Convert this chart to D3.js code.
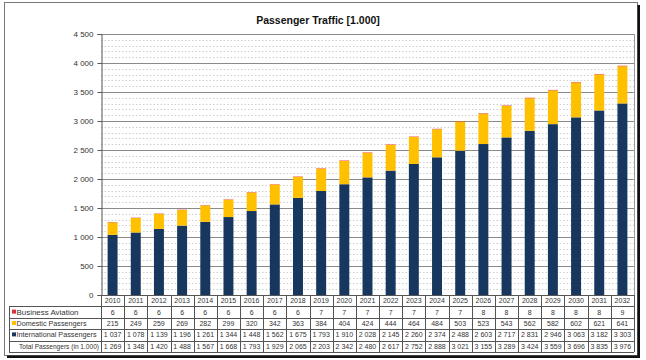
<!DOCTYPE html>
<html><head><meta charset="utf-8">
<script src="https://cdn.jsdelivr.net/npm/d3@7"></script>
<style>body{margin:0;background:#fff}svg{display:block;font-family:"Liberation Sans",Arial,sans-serif}</style>
</head><body><svg id="c" width="646" height="360"></svg>
<script>
const years = [2010,2011,2012,2013,2014,2015,2016,2017,2018,2019,2020,2021,2022,2023,2024,2025,2026,2027,2028,2029,2030,2031,2032];
const business = [6,6,6,6,6,6,6,6,6,7,7,7,7,7,7,7,8,8,8,8,8,8,9];
const domestic = [215,249,259,269,282,299,320,342,363,384,404,424,444,464,484,503,523,543,562,582,602,621,641];
const international = [1037,1078,1139,1196,1261,1344,1448,1562,1675,1793,1910,2028,2145,2260,2374,2488,2603,2717,2831,2946,3063,3182,3303];
const total = [1269,1348,1420,1488,1567,1668,1793,1929,2065,2203,2342,2480,2617,2752,2888,3021,3155,3289,3424,3559,3696,3835,3976];
const yTicks = [0,500,1000,1500,2000,2500,3000,3500,4000,4500];
const seriesNames = ["Business Aviation","Domestic Passengers","International Passengers"];
const totalLabel = "Total Passengers (in 1.000)";
const title = "Passenger Traffic [1.000]";

const colors = {business:"#E0303A", domestic:"#FFC000", international:"#17375E"};
const svg = d3.select("#c");
const loc = d3.formatLocale({decimal:",",thousands:"\u2009",grouping:[3],currency:["",""]});
const fmt = v => loc.format(",")(v).replace(/\u2009/g," ");

const L=101, R=634, T=34, B=295;
const x = d3.scaleBand().domain(years).range([L,R]);
const xb = d3.scaleBand().domain(years).range([L,R]).paddingInner(0.57).paddingOuter(0.285);
const y = d3.scaleLinear().domain([0,4500]).range([B,T]);

// outer frame with shadow
svg.append("rect").attr("x",4.5).attr("y",2.5).attr("width",633).attr("height",353).attr("fill","#fff").attr("stroke","#777");
svg.append("rect").attr("x",637.5).attr("y",5).attr("width",2.5).attr("height",353).attr("fill","#111");
svg.append("rect").attr("x",7).attr("y",355.5).attr("width",633).attr("height",2.5).attr("fill","#111");

// title
svg.append("text").attr("x",318).attr("y",24).attr("text-anchor","middle").attr("font-size",10.5).attr("font-weight","bold").attr("fill","#111").text(title);

// minor grid
const minor = d3.range(100,4500,100).filter(v=>v%500!==0);
svg.append("g").selectAll("line").data(minor).join("line")
  .attr("x1",L).attr("x2",R).attr("y1",d=>Math.round(y(d))+0.5).attr("y2",d=>Math.round(y(d))+0.5)
  .attr("stroke","#cfcfcf").attr("stroke-dasharray","1.5,2").attr("stroke-width",1);
// major grid
svg.append("g").selectAll("line").data(yTicks.filter(v=>v>0)).join("line")
  .attr("x1",L).attr("x2",R).attr("y1",d=>Math.round(y(d))+0.5).attr("y2",d=>Math.round(y(d))+0.5)
  .attr("stroke","#8a8a8a").attr("stroke-width",1);
// plot border right
svg.append("line").attr("x1",R+0.5).attr("x2",R+0.5).attr("y1",T).attr("y2",B).attr("stroke","#999");

// stacked bars
const rows = years.map((yr,i)=>({year:yr, international:international[i], domestic:domestic[i], business:business[i]}));
const stack = d3.stack().keys(["international","domestic","business"])(rows);
svg.append("g").selectAll("g").data(stack).join("g").attr("fill",d=>colors[d.key])
  .selectAll("rect").data(d=>d).join("rect")
  .attr("x",d=>xb(d.data.year)).attr("width",xb.bandwidth())
  .attr("y",d=>y(d[1])).attr("height",d=>y(d[0])-y(d[1]));

// y axis
const ya = svg.append("g").attr("transform",`translate(${L+0.5},0)`)
  .call(d3.axisLeft(y).tickValues(yTicks).tickSize(4).tickPadding(4).tickFormat(fmt));
ya.select(".domain").attr("stroke","#555");
ya.selectAll(".tick line").attr("stroke","#555");
ya.selectAll("text").attr("font-size",8).attr("fill","#333").attr("font-family","Liberation Sans, Arial, sans-serif");

// data table
const rowH = 11.4;
const t0 = B;
const tg = svg.append("g").attr("font-size",7).attr("fill","#333");
const lineC = "#555";
for(let r=0;r<=5;r++){
  const yy = Math.round(t0 + r*rowH)+0.5;
  tg.append("line").attr("x1", r===0 ? L : 9).attr("x2",R).attr("y1",yy).attr("y2",yy).attr("stroke",lineC);
}
years.forEach(yr=>{
  const xx = Math.round(x(yr))+0.5;
  tg.append("line").attr("x1",xx).attr("x2",xx).attr("y1",t0).attr("y2",t0+5*rowH).attr("stroke",lineC);
});
tg.append("line").attr("x1",R+0.5).attr("x2",R+0.5).attr("y1",t0).attr("y2",t0+5*rowH).attr("stroke",lineC);
tg.append("line").attr("x1",9.5).attr("x2",9.5).attr("y1",t0+rowH).attr("y2",t0+5*rowH).attr("stroke",lineC);

const tableRows = [years, business, domestic, international, total];
tableRows.forEach((arr,r)=>{
  tg.append("g").selectAll("text").data(arr).join("text")
    .attr("x",(d,i)=>x(years[i])+x.bandwidth()/2).attr("y",t0+r*rowH+rowH/2+2.5)
    .attr("text-anchor","middle").attr("fill","#333")
    .text(d=> r===0 ? d : fmt(d));
});
const keyColors = [colors.business, colors.domestic, colors.international];
const keyLens = [62, 70, 80];
seriesNames.forEach((nm,k)=>{
  const cy = t0+(k+1)*rowH+rowH/2;
  tg.append("rect").attr("x",12).attr("y",cy-2.5).attr("width",4).attr("height",4).attr("fill",keyColors[k]);
  tg.append("text").attr("x",16.5).attr("y",cy+2.5).attr("fill","#333")
    .attr("textLength",keyLens[k]).attr("lengthAdjust","spacingAndGlyphs").text(nm);
});
tg.append("text").attr("x",19).attr("y",t0+4*rowH+rowH/2+2.5).attr("fill","#333")
  .attr("textLength",80).attr("lengthAdjust","spacingAndGlyphs").text(totalLabel);
</script></body></html>
